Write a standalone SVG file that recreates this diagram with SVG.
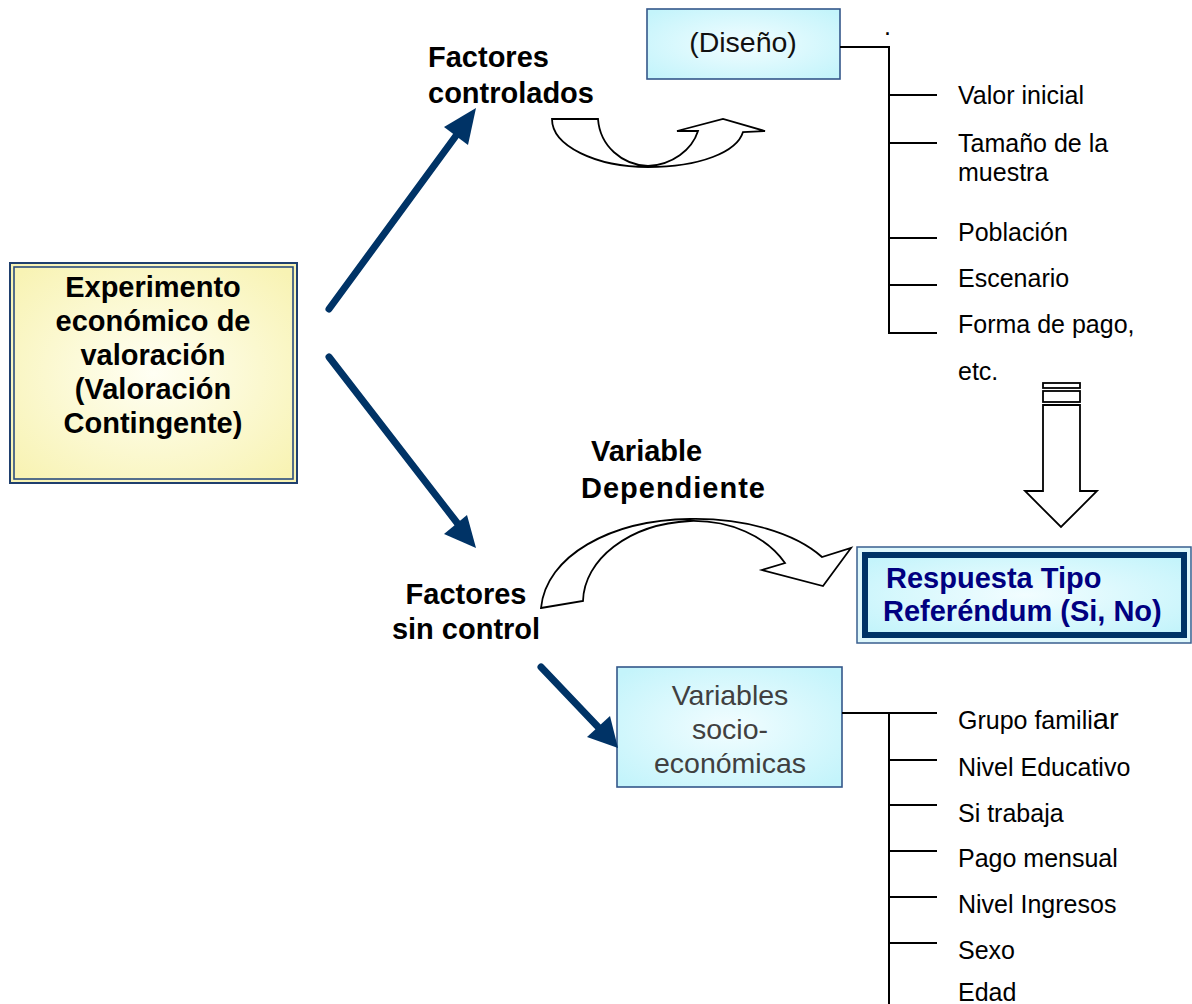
<svg xmlns="http://www.w3.org/2000/svg" width="1192" height="1004" viewBox="0 0 1192 1004">
  <defs>
    <radialGradient id="gYellow" cx="50%" cy="50%" r="65%">
      <stop offset="0" stop-color="#fffff4"/>
      <stop offset="1" stop-color="#f8f3b4"/>
    </radialGradient>
    <radialGradient id="gCyan" cx="50%" cy="50%" r="65%">
      <stop offset="0" stop-color="#f2fdff"/>
      <stop offset="1" stop-color="#c4f4fb"/>
    </radialGradient>
    <style>
      .bold { font-family: "Liberation Sans", Arial, sans-serif; font-weight: bold; font-size: 29px; fill: #000; }
      .reg { font-family: "Liberation Sans", Arial, sans-serif; font-size: 25px; fill: #000; }
      .box { font-family: "Liberation Sans", Arial, sans-serif; font-size: 28.5px; }
      .nav { stroke: #003366; stroke-width: 7; stroke-linecap: round; fill: none; }
      .head { fill: #003366; stroke: none; }
      .tree { stroke: #000; stroke-width: 2; fill: none; }
      .block { fill: #fff; stroke: #000; stroke-width: 1.8; stroke-linejoin: miter; }
    </style>
  </defs>

  <rect width="1192" height="1004" fill="#fff"/>

  <!-- main experiment box with double border -->
  <g id="experimento">
    <rect x="10" y="263" width="287" height="220" fill="url(#gYellow)" stroke="#1f3f6e" stroke-width="2"/>
    <rect x="14" y="267" width="279" height="212" fill="none" stroke="#2b4d7e" stroke-width="1.6"/>
    <g class="bold" text-anchor="middle">
      <text x="153" y="297">Experimento</text>
      <text x="153" y="331">económico de</text>
      <text x="153" y="365">valoración</text>
      <text x="153" y="399">(Valoración</text>
      <text x="153" y="433">Contingente)</text>
    </g>
  </g>

  <!-- design box -->
  <g id="diseno">
    <rect x="647" y="9" width="193" height="70" fill="url(#gCyan)" stroke="#34578a" stroke-width="1.6"/>
    <text class="box" x="743" y="52" text-anchor="middle" fill="#111">(Diseño)</text>
  </g>

  <!-- socio-economic variables box -->
  <g id="socioeconomicas">
    <rect x="617" y="667" width="225" height="120" fill="url(#gCyan)" stroke="#34578a" stroke-width="1.6"/>
    <g class="box" text-anchor="middle" fill="#404040">
      <text x="730" y="705">Variables</text>
      <text x="730" y="739">socio-</text>
      <text x="730" y="773">económicas</text>
    </g>
  </g>

  <!-- response box -->
  <g id="respuesta">
    <rect x="857" y="547" width="334" height="96" fill="#dff8fc" stroke="#3a5f8f" stroke-width="1.5"/>
    <rect x="865" y="555" width="319" height="80" fill="url(#gCyan)" stroke="#003366" stroke-width="6"/>
    <g class="bold" style="fill:#000080">
      <text x="886" y="588">Respuesta Tipo</text>
      <text x="883" y="621">Referéndum (Si, No)</text>
    </g>
  </g>

  <!-- labels -->
  <g id="label-controlados" class="bold">
    <text x="428" y="67">Factores</text>
    <text x="428" y="103">controlados</text>
  </g>
  <g id="label-sin-control" class="bold" text-anchor="middle">
    <text x="466" y="604">Factores</text>
    <text x="466" y="639">sin control</text>
  </g>
  <g id="label-dependiente" class="bold">
    <text x="591" y="461">Variable</text>
    <text x="581" y="498" textLength="184" lengthAdjust="spacing">Dependiente</text>
  </g>

  <!-- design factors list -->
  <g id="lista-diseno">
    <text class="reg" x="884" y="35" font-size="16">.</text>
    <g class="reg">
      <text x="958" y="104">Valor inicial</text>
      <text x="958" y="152">Tamaño de la</text>
      <text x="958" y="181">muestra</text>
      <text x="958" y="241">Población</text>
      <text x="958" y="287">Escenario</text>
      <text x="958" y="333">Forma de pago,</text>
      <text x="958" y="380">etc.</text>
    </g>
  </g>

  <!-- socio-economic list -->
  <g id="lista-socio" class="reg">
    <text x="958" y="729">Grupo famili<tspan font-size="29">ar</tspan></text>
    <text x="958" y="776">Nivel Educativo</text>
    <text x="958" y="822">Si trabaja</text>
    <text x="958" y="867">Pago mensual</text>
    <text x="958" y="913">Nivel Ingresos</text>
    <text x="958" y="959">Sexo</text>
    <text x="958" y="1001">Edad</text>
  </g>

  <!-- connectors -->
  <g id="connectors">
    <!-- navy arrows -->
    <line class="nav" x1="329" y1="309" x2="458" y2="133"/>
    <polygon class="head" points="476,108 444,127 468,145"/>
    <line class="nav" x1="329" y1="357" x2="458" y2="524"/>
    <polygon class="head" points="476,548 444,534 467,515"/>
    <line class="nav" x1="541" y1="667" x2="600" y2="729"/>
    <polygon class="head" points="618,748 587,737 610,716"/>

    <!-- bracket trees -->
    <path class="tree" d="M840,47 H889 V333 H937 M889,95 H937 M889,143 H937 M889,238 H937 M889,285 H937"/>
    <path class="tree" d="M842,713 H937 M889,713 V1004 M889,760 H937 M889,805 H937 M889,851 H937 M889,897 H937 M889,943 H937"/>

    <!-- curved block arrow near controlled factors -->
    <path class="block" d="M552,119 L598,119 C600,146 622,165 648,166 C672,165 692,150 698,131 L677,131 L723,119 L765,131 L743,132 C737,152 700,167 648,167 C596,167 552,146 552,119 Z"/>

    <!-- curved block arrow toward the response -->
    <path class="block" d="M541,608 L583,601 C584,560 628,524 690,521 C730,520 766,536 785,563 L762,570 L823,586 L851,548 L822,557 C795,533 745,518 690,519 C610,520 546,556 541,608 Z"/>

    <!-- hollow down arrow -->
    <rect class="block" x="1043" y="383" width="37" height="5"/>
    <rect class="block" x="1043" y="391" width="37" height="11"/>
    <path class="block" d="M1043,405 H1080 V491 H1097 L1061,527 L1025,491 H1043 Z"/>
  </g>
</svg>
